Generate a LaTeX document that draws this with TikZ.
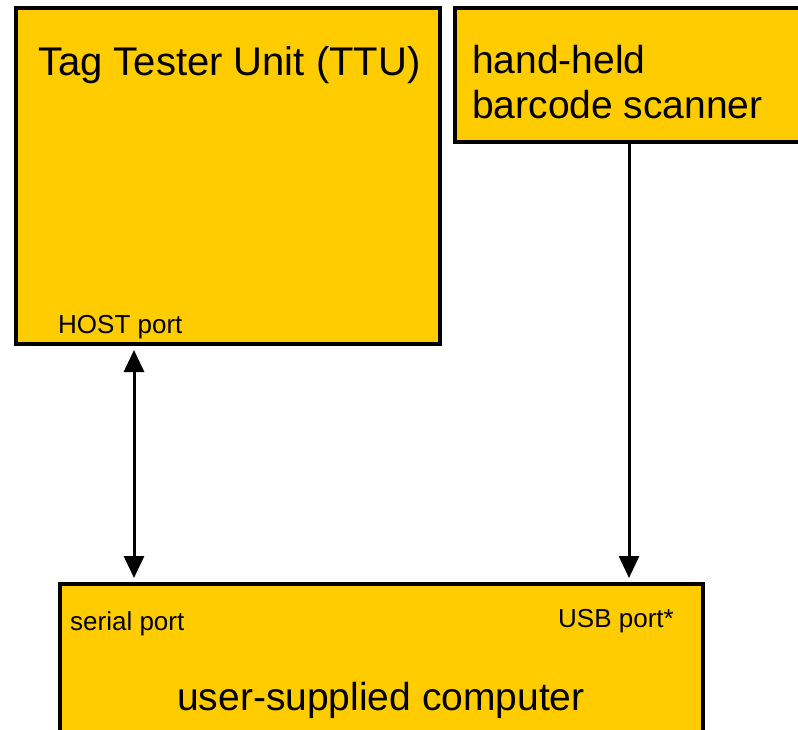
\documentclass[tikz,border=0pt]{standalone}
\usepackage{fontspec}
\setmainfont{Liberation Sans}
\usetikzlibrary{arrows.meta}
\definecolor{boxfill}{RGB}{255,204,0}
\begin{document}
\begin{tikzpicture}[x=1pt,y=-1pt,
  unitbox/.style={draw=black, fill=boxfill, line width=4pt, rectangle,
    inner sep=0pt, anchor=north west},
  bigtext/.style={inner sep=0pt, font=\fontsize{39}{45}\selectfont},
  porttext/.style={inner sep=0pt, font=\fontsize{26}{30}\selectfont},
  conn/.style={line width=3pt, draw=black,
    arrows={-Triangle[length=22pt,width=20pt]}},
  connboth/.style={conn, arrows={Triangle[length=22pt,width=20pt]-Triangle[length=22pt,width=20pt]}}
]
\useasboundingbox (0,0) rectangle (798,729);
\clip (0,0) rectangle (798,729);

% units
\node[unitbox, minimum width=423.5pt, minimum height=336pt] (ttu) at (14,6) {};
\node[unitbox, minimum width=367.5pt, minimum height=134pt] (scan) at (452.5,6) {};
\node[unitbox, minimum width=643pt, minimum height=170pt] (comp) at (57.5,582) {};

% labels
\node[bigtext, font=\fontsize{40}{45}\selectfont, anchor=base west] (ttulbl) at (38,75) {Tag Tester Unit (TTU)};
\node[bigtext, anchor=base west, align=left] (scanlbl) at (472,118) {hand-held\\barcode scanner};
\node[bigtext, anchor=base west] (complbl) at (177,710) {user-supplied computer};
\node[porttext, anchor=base west] (hostlbl) at (58,333) {HOST port};
\node[porttext, anchor=base west] (seriallbl) at (70,630) {serial port};
\node[porttext, anchor=base east] (usblbl) at (674,627) {USB port*};

% connections
\draw[connboth, shorten <=4pt, shorten >=4pt]
  ([xshift=120pt]ttu.south west) -- ([xshift=76.5pt]comp.north west);
\draw[conn, shorten >=4pt]
  ([xshift=176.5pt]scan.south west) -- ([xshift=571.5pt]comp.north west);
\end{tikzpicture}
\end{document}
